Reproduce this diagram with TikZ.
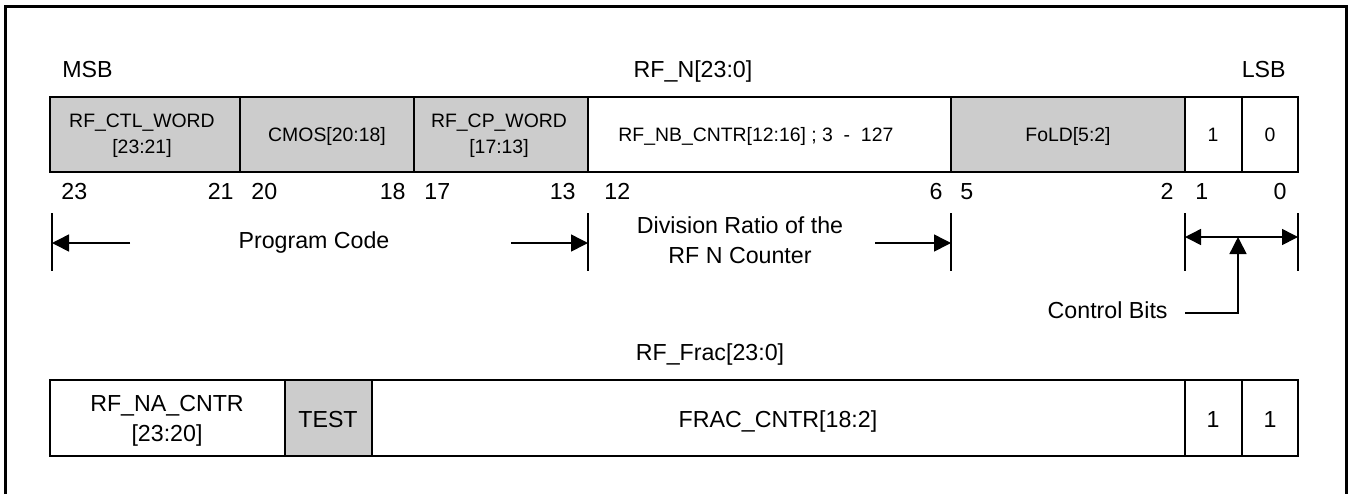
\documentclass[tikz,border=0pt]{standalone}
\usepackage{fontspec}
\setmainfont{Liberation Sans}
\usetikzlibrary{arrows.meta}
\definecolor{fieldgray}{RGB}{204,204,204}

\begin{document}
\begin{tikzpicture}[x=0.5pt,y=0.5pt,yscale=-1,xscale=1,
    big/.style={font=\fontsize{11.6}{15}\selectfont,inner sep=0pt},
    small/.style={font=\fontsize{9.7}{12.85}\selectfont,inner sep=0pt},
    field/.style={line width=0.75pt},
    dim/.style={line width=0.75pt},
    tip/.style={-{Triangle[length=8.5pt,width=8.5pt]}},
    tips/.style={{Triangle[length=8pt,width=8pt]}-{Triangle[length=8pt,width=8pt]}}]
    \useasboundingbox (0,0) rectangle (1353,494);
    \draw[line width=1.5pt] (5,494) -- (5,6) -- (1346,6) -- (1346,494);
    % RF_N[23:0] register
    \fill[fieldgray] (50,97) rectangle (588,172);
    \fill[fieldgray] (951,97) rectangle (1185,172);
    \draw[field] (50,97) rectangle (1298,172);
    \draw[field] (240,97) -- (240,172);
    \draw[field] (414,97) -- (414,172);
    \draw[field] (588,97) -- (588,172);
    \draw[field] (951,97) -- (951,172);
    \draw[field] (1185,97) -- (1185,172);
    \draw[field] (1242,97) -- (1242,172);
    \node[big,anchor=base west] (msb) at (62,77) {MSB};
    \node[big,anchor=base] (rfn) at (693,77) {RF\_N[23:0]};
    \node[big,anchor=base east] (lsb) at (1286,77) {LSB};
    \node[small,align=center] (ctlword) at (142,136) {RF\_CTL\_WORD\\{}[23:21]};
    \node[small,anchor=base] (cmos) at (327,141) {CMOS[20:18]};
    \node[small,align=center] (cpword) at (499,136) {RF\_CP\_WORD\\{}[17:13]};
    \node[small,anchor=base west] (nbcntr) at (618,141) {RF\_NB\_CNTR[12:16] ; 3 \ - \ 127};
    \node[small,anchor=base] (fold) at (1068,141) {FoLD[5:2]};
    \node[small,anchor=base] (bitone) at (1213,141) {1};
    \node[small,anchor=base] (bitzero) at (1270,141) {0};
    % bit numbers
    \node[big,anchor=base west] (nA) at (61,199) {23};
    \node[big,anchor=base east] (nB) at (234,199) {21};
    \node[big,anchor=base west] (nC) at (251,199) {20};
    \node[big,anchor=base east] (nD) at (406,199) {18};
    \node[big,anchor=base west] (nE) at (424,199) {17};
    \node[big,anchor=base east] (nF) at (576,199) {13};
    \node[big,anchor=base west] (nG) at (604,199) {12};
    \node[big,anchor=base east] (nH) at (943,199) {6};
    \node[big,anchor=base west] (nI) at (960,199) {5};
    \node[big,anchor=base east] (nJ) at (1174,199) {2};
    \node[big,anchor=base west] (nK) at (1195,199) {1};
    \node[big,anchor=base east] (nL) at (1287,199) {0};
    % dimension lines
    \draw[dim] (52,213) -- (52,271);
    \draw[dim] (588,213) -- (588,271);
    \draw[dim] (951,213) -- (951,271);
    \draw[dim] (1185,213) -- (1185,271);
    \draw[dim] (1298,213) -- (1298,271);
    \coordinate (pcA) at (130,243);
    \coordinate (pcAtip) at (52,243);
    \coordinate (pcB) at (511,243);
    \coordinate (pcBtip) at (588,243);
    \coordinate (drA) at (875,243);
    \coordinate (drAtip) at (951,243);
    \coordinate (cbL) at (1185,237);
    \coordinate (cbR) at (1298,237);
    \coordinate (cbStart) at (1185,313);
    \coordinate (cbBend) at (1238,313);
    \coordinate (cbTip) at (1238,237);
    \draw[dim,tip] (pcA) -- (pcAtip);
    \draw[dim,tip] (pcB) -- (pcBtip);
    \draw[dim,tip] (drA) -- (drAtip);
    \draw[dim,tips] (cbL) -- (cbR);
    \draw[dim,tip] (cbStart) -- (cbBend) -- (cbTip);
    \node[big,anchor=base] (progcode) at (314,248) {Program Code};
    \node[big,align=center] (divratio) at (740,240) {Division Ratio of the\\RF N Counter};
    \node[big,anchor=base east] (ctrlbits) at (1168,318) {Control Bits};
    % RF_Frac[23:0] register
    \node[big,anchor=base] (rffrac) at (710,360) {RF\_Frac[23:0]};
    \fill[fieldgray] (285,380) rectangle (372,456);
    \draw[field] (50,380) rectangle (1298,456);
    \draw[field] (285,380) -- (285,456);
    \draw[field] (372,380) -- (372,456);
    \draw[field] (1185,380) -- (1185,456);
    \draw[field] (1242,380) -- (1242,456);
    \node[big,align=center] (nacntr) at (167,421) {RF\_NA\_CNTR\\{}[23:20]};
    \node[big,anchor=base] (test) at (328,427) {TEST};
    \node[big,anchor=base] (fraccntr) at (778,427) {FRAC\_CNTR[18:2]};
    \node[big,anchor=base] (fracone) at (1213,427) {1};
    \node[big,anchor=base] (fractwo) at (1270,427) {1};
\end{tikzpicture}
\end{document}
